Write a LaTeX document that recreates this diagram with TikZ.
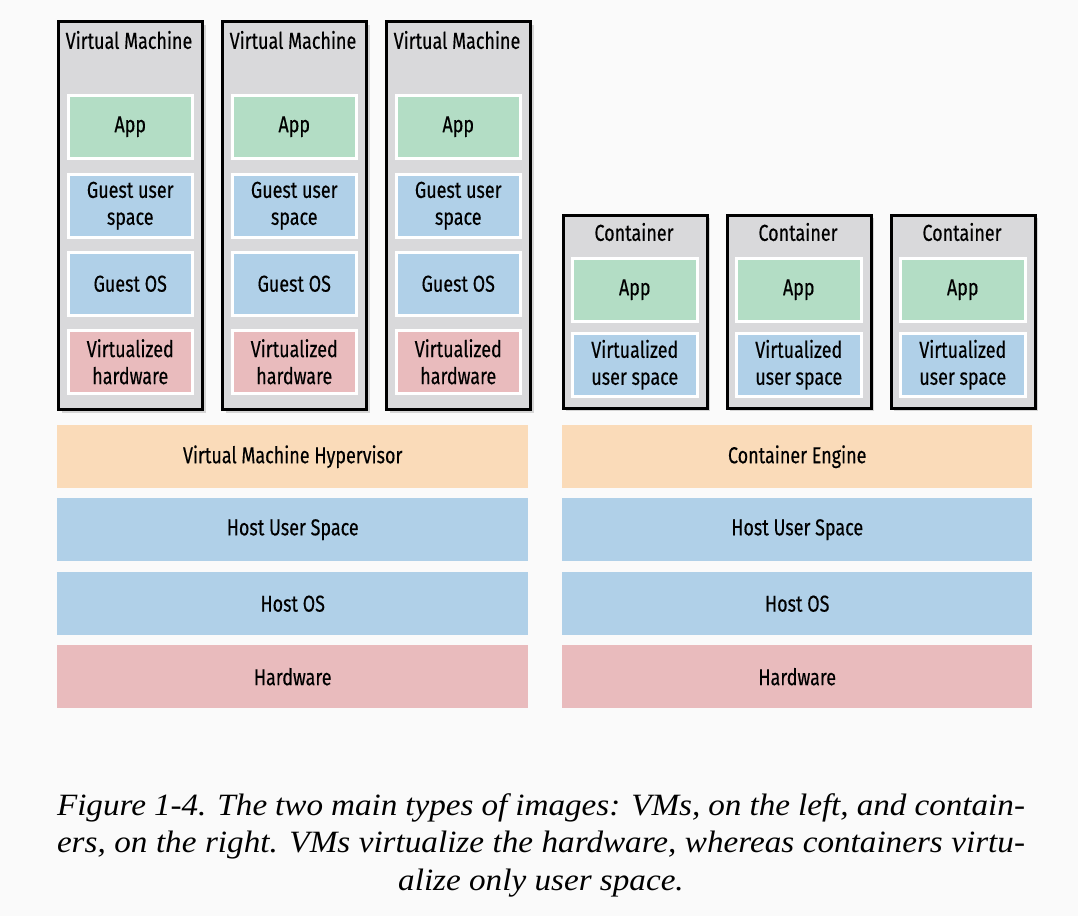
\documentclass[tikz,border=0pt]{standalone}
\usepackage{fontspec}
\setmainfont{Liberation Serif}
\newfontfamily\labelfont[FakeStretch=0.78,FakeBold=0.3]{Fira Sans}
\newfontfamily\capfont[FakeStretch=1.07]{Liberation Serif}
\usetikzlibrary{shadows}

\definecolor{pagebg}{RGB}{250,250,250}
\definecolor{boxgray}{RGB}{217,217,219}
\definecolor{appgreen}{RGB}{179,221,197}
\definecolor{userblue}{RGB}{176,208,232}
\definecolor{hwpink}{RGB}{233,187,189}
\definecolor{engorange}{RGB}{250,219,185}

\tikzset{
  vmbox/.style={draw=black, line width=3pt, fill=boxgray, anchor=north west, inner sep=0pt,
    drop shadow={shadow xshift=3pt, shadow yshift=-3pt, opacity=0.3}},
  slot/.style={draw=white, line width=2.5pt, anchor=north west, inner sep=0pt, align=center,
    minimum height=63pt, font=\labelfont\fontsize{23}{27}\selectfont},
  layer/.style={anchor=north west, inner sep=0pt, minimum height=63pt,
    font=\labelfont\fontsize{23}{27}\selectfont},
  boxtitle/.style={inner sep=0pt, font=\labelfont\fontsize{23}{27}\selectfont},
}

\begin{document}
\begin{tikzpicture}[x=1pt,y=-1pt]
\useasboundingbox[fill=pagebg] (0,0) rectangle (1078,916);

% virtual machines
\foreach \i/\x in {1/57,2/221,3/385} {
  \node[vmbox, minimum width=144pt, minimum height=388pt] (vm\i) at (\x,20) {};
  \node[boxtitle] (vmtitle\i) at (\x+72,40) {Virtual Machine};
  \node[slot, fill=appgreen, minimum width=124pt] (vmapp\i) at (\x+10,94) {App};
  \node[slot, fill=userblue, minimum width=124pt] (vmuser\i) at (\x+10,173) {Guest user\\space};
  \node[slot, fill=userblue, minimum width=124pt] (vmos\i) at (\x+10,251) {Guest OS};
  \node[slot, fill=hwpink, minimum width=124pt] (vmhw\i) at (\x+10,329) {Virtualized\\hardware};
}

% containers
\foreach \i/\x in {1/562,2/726,3/890} {
  \node[vmbox, line width=2.5pt, minimum width=144pt, minimum height=193pt] (ct\i) at (\x,214) {};
  \node[boxtitle] (cttitle\i) at (\x+72,232) {Container};
  \node[slot, fill=appgreen, minimum width=125pt] (ctapp\i) at (\x+9,257) {App};
  \node[slot, fill=userblue, minimum width=125pt] (ctuser\i) at (\x+9,332) {Virtualized\\user space};
}

% host stacks
\node[layer, fill=engorange, minimum width=471pt] (hyper) at (57,425) {Virtual Machine Hypervisor};
\node[layer, fill=userblue, minimum width=471pt] (vmhus) at (57,498) {Host User Space};
\node[layer, fill=userblue, minimum width=471pt] (vmhos) at (57,572) {Host OS};
\node[layer, fill=hwpink, minimum width=471pt] (vmhhw) at (57,645) {Hardware};

\node[layer, fill=engorange, minimum width=470pt] (engine) at (562,425) {Container Engine};
\node[layer, fill=userblue, minimum width=470pt] (cthus) at (562,498) {Host User Space};
\node[layer, fill=userblue, minimum width=470pt] (cthos) at (562,572) {Host OS};
\node[layer, fill=hwpink, minimum width=470pt] (cthhw) at (562,645) {Hardware};

% caption
\node[align=center, inner sep=0pt, anchor=base, font=\capfont\itshape\fontsize{31}{37.5}\selectfont] (caption) at (541,890)
  {\makebox[968pt][s]{Figure 1-4. The two main types of images: VMs, on the left, and contain-}\\
   \makebox[968pt][s]{ers, on the right. VMs virtualize the hardware, whereas containers virtu-}\\
   alize only user space.};
\end{tikzpicture}
\end{document}
